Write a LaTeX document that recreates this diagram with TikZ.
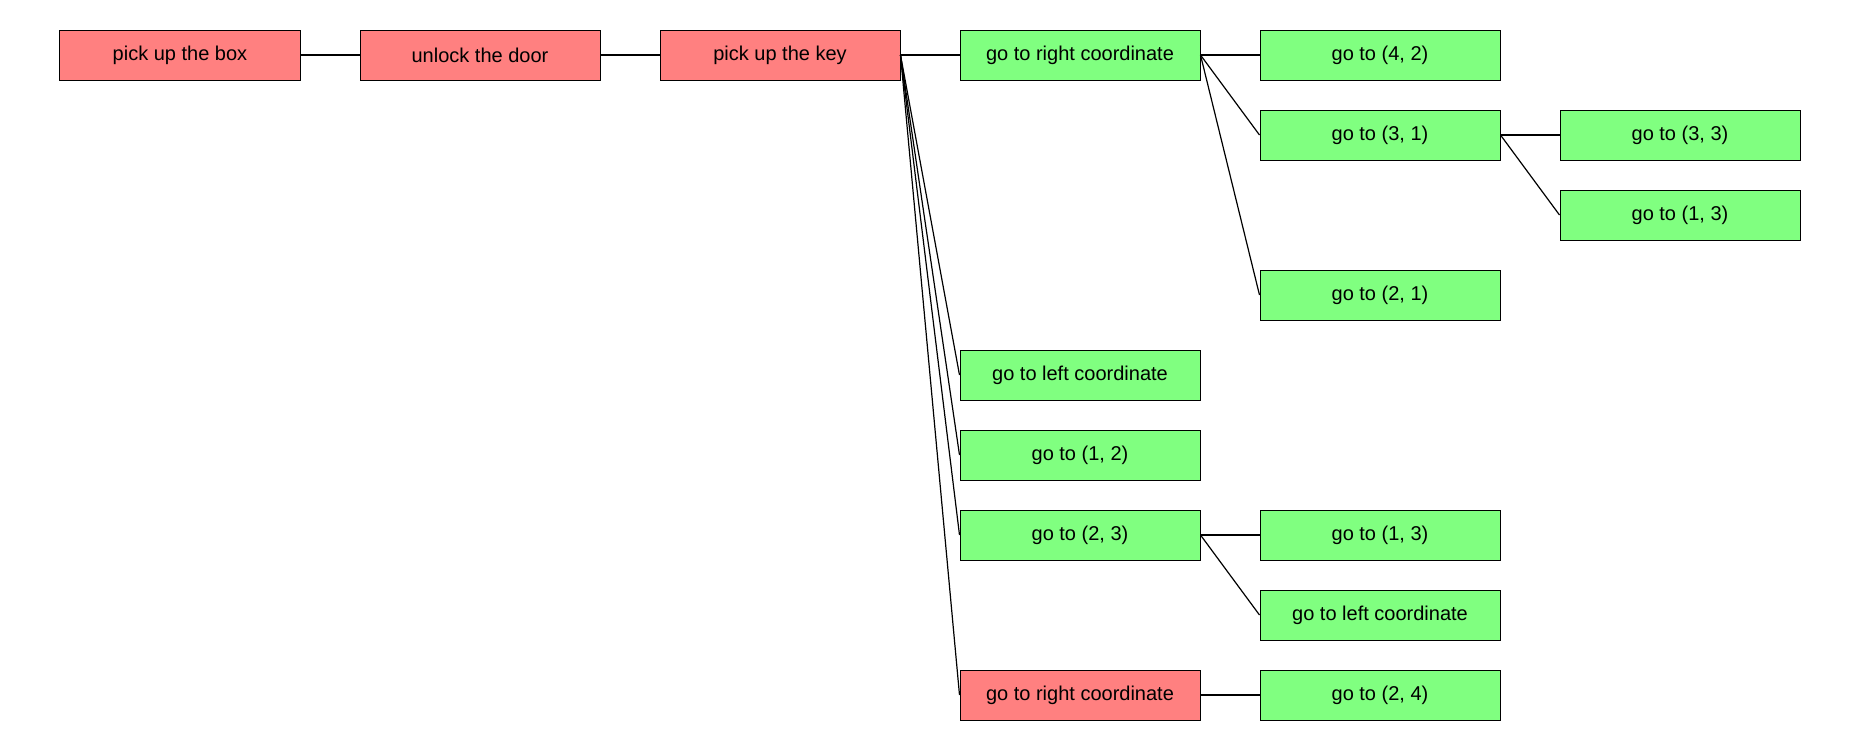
\documentclass[tikz,border=0pt]{standalone}
\usepackage{fontspec}
\setmainfont{Liberation Sans}
\definecolor{failred}{RGB}{255,128,128}
\definecolor{okgreen}{RGB}{128,255,128}
\begin{document}
\begin{tikzpicture}[x=150pt,y=-40pt,
    task/.style={draw,line width=0.5pt,minimum width=120pt,minimum height=25pt,inner sep=0pt,font=\fontsize{10}{12}\selectfont},
    bad/.style={task,fill=failred},
    good/.style={task,fill=okgreen},
    link/.style={line width=0.6pt}]
          \useasboundingbox (-90pt,27.5pt) rectangle (840pt,-347.5pt);
          \node[bad] (box) at (0,0) {pick up the box};
          \node[bad] (door) at (1,0) {unlock the door};
          \node[bad] (key) at (2,0) {pick up the key};
          \node[good] (right) at (3,0) {go to right coordinate};
          \node[good] (g42) at (4,0) {go to (4, 2)};
          \node[good] (g31) at (4,1) {go to (3, 1)};
          \node[good] (g33) at (5,1) {go to (3, 3)};
          \node[good] (g13a) at (5,2) {go to (1, 3)};
          \node[good] (g21) at (4,3) {go to (2, 1)};
          \node[good] (left) at (3,4) {go to left coordinate};
          \node[good] (g12) at (3,5) {go to (1, 2)};
          \node[good] (g23) at (3,6) {go to (2, 3)};
          \node[good] (g13b) at (4,6) {go to (1, 3)};
          \node[good] (left2) at (4,7) {go to left coordinate};
          \node[bad] (right2) at (3,8) {go to right coordinate};
          \node[good] (g24) at (4,8) {go to (2, 4)};
          \foreach \a/\b in {box/door,door/key,key/right,key/left,key/g12,key/g23,key/right2,
                             right/g42,right/g31,right/g21,g31/g33,g31/g13a,g23/g13b,g23/left2,right2/g24}
            \draw[link] (\a.east) -- (\b.west);
        \end{tikzpicture}
\end{document}
